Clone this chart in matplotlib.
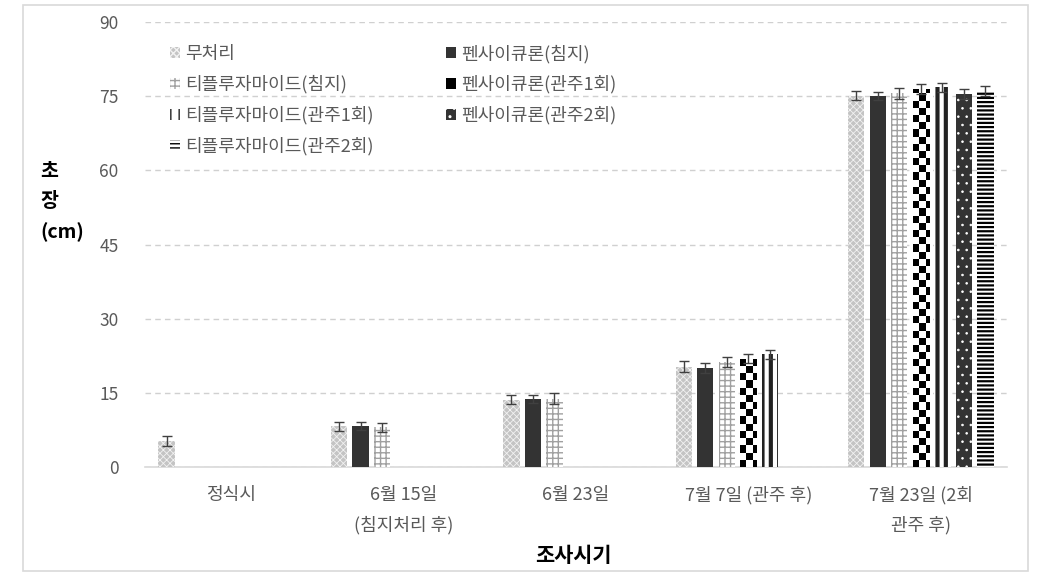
import numpy as np
import matplotlib
matplotlib.use("Agg")
import matplotlib.pyplot as plt
from matplotlib.patches import Patch, Rectangle

plt.rcParams['font.family'] = ['Noto Sans CJK KR', 'DejaVu Sans']

categories = ["정식시", "6월 15일\n(침지처리 후)", "6월 23일", "7월 7일 (관주 후)", "7월 23일 (2회\n관주 후)"]
series = ["무처리", "펜사이큐론(침지)", "티플루자마이드(침지)", "펜사이큐론(관주1회)",
          "티플루자마이드(관주1회)", "펜사이큐론(관주2회)", "티플루자마이드(관주2회)"]
nan = np.nan
v_control = [5.3, 8.2, 13.6, 20.3, 75.1]
v_pen_dip = [nan, 8.3, 13.7, 20.0, 75.0]
v_thi_dip = [nan, 8.0, 13.8, 21.2, 75.6]
v_pen_dr1 = [nan, nan, nan, 21.9, 76.5]
v_thi_dr1 = [nan, nan, nan, 22.8, 76.8]
v_pen_dr2 = [nan, nan, nan, nan, 75.4]
v_thi_dr2 = [nan, nan, nan, nan, 76.1]
e_control = [1.0, 1.0, 0.9, 1.1, 0.9]
e_pen_dip = [nan, 0.9, 0.8, 1.0, 0.8]
e_thi_dip = [nan, 1.0, 1.1, 1.0, 1.1]
e_pen_dr1 = [nan, nan, nan, 0.9, 1.0]
e_thi_dr1 = [nan, nan, nan, 0.9, 0.9]
e_pen_dr2 = [nan, nan, nan, nan, 1.0]
e_thi_dr2 = [nan, nan, nan, nan, 1.0]
values = [v_control, v_pen_dip, v_thi_dip, v_pen_dr1, v_thi_dr1, v_pen_dr2, v_thi_dr2]
errors = [e_control, e_pen_dip, e_thi_dip, e_pen_dr1, e_thi_dr1, e_pen_dr2, e_thi_dr2]

# fill styles per series: face, hatch colour, hatch, hatch lw
styles = [
    dict(fc="#c4c4c4", hc="#f2f2f2", hatch="xxxxx", hlw=0.6),
    dict(fc="#333333", hc="#333333", hatch=None, hlw=1.0),
    dict(fc="white", hc="#a0a0a0", hatch="+++", hlw=1.0),
    dict(fc="white", hc="black", hatch="checker", hlw=1.0),
    dict(fc="white", hc="#222222", hatch="||", hlw=3.0),
    dict(fc="#333333", hc="white", hatch="..", hlw=0.6),
    dict(fc="white", hc="black", hatch="----", hlw=1.6),
]

GRAY = "#595959"
fig = plt.figure(figsize=(10.39, 5.77), dpi=100)
ax = fig.add_axes([145 / 1039, 1 - 467 / 577, (1007 - 145) / 1039, (467 - 22) / 577])

slot, width = 0.125, 0.095
sq_w, sq_h = 0.042, 1.45   # checker square size in data units
x = np.arange(len(categories))
legend_handles = []
for k, (name, vals, errs, st) in enumerate(zip(series, values, errors, styles)):
    vals = np.array(vals); errs = np.array(errs)
    m = ~np.isnan(vals)
    xs = x[m] + (k - 3) * slot
    hatch = None if st["hatch"] in (None, "checker") else st["hatch"]
    with plt.rc_context({"hatch.linewidth": st["hlw"]}):
        bars = ax.bar(xs, vals[m], width, facecolor=st["fc"], edgecolor=st["hc"],
                      hatch=hatch, linewidth=0, zorder=2)
        for b in bars:
            if hasattr(b, "set_hatch_linewidth"):
                b.set_hatch_linewidth(st["hlw"])
    if st["hatch"] == "checker":
        for b in bars:
            x0, h = b.get_x(), b.get_height()
            nr, nc = int(np.ceil(h / sq_h)), 3
            cb = (np.indices((nr, nc)).sum(axis=0) % 2).astype(float)
            im = ax.imshow(cb, cmap="gray", extent=(x0 - 0.01, x0 - 0.01 + nc * sq_w, 0, nr * sq_h),
                           origin="lower", aspect="auto", interpolation="nearest", zorder=2.5)
            im.set_clip_path(b)
        with plt.rc_context({"hatch.linewidth": 2.0}):
            lh = Patch(facecolor="black", edgecolor="white", hatch="+", linewidth=0)
    else:
        with plt.rc_context({"hatch.linewidth": st["hlw"]}):
            lh = Patch(facecolor=st["fc"], edgecolor=st["hc"], hatch=hatch, linewidth=0)
    ax.errorbar(xs, vals[m], yerr=errs[m], fmt="none", ecolor="#404040",
                elinewidth=1.0, capsize=3.6, capthick=1.0, zorder=3)
    legend_handles.append(lh)

ax.set_xlim(-0.5, len(categories) - 0.5)
ax.set_ylim(0, 90)
ax.set_yticks(np.arange(0, 91, 15))
ax.set_xticks(x)
ax.set_xticklabels(categories, linespacing=1.75)
ax.tick_params(axis="y", length=0, pad=19, labelsize=12.5, labelcolor=GRAY)
ax.tick_params(axis="x", length=0, pad=14, labelsize=13, labelcolor=GRAY)
for sp in ax.spines.values():
    sp.set_visible(False)
ax.axhline(0, color="#d9d9d9", lw=1.2, zorder=1, clip_on=False)
ax.yaxis.grid(True, color="#d0d0d0", lw=1.0, ls=(0, (4, 3)), zorder=0)
ax.set_axisbelow(True)

order = [0, 2, 4, 6, 1, 3, 5]
leg = ax.legend([legend_handles[i] for i in order], [series[i] for i in order],
                ncol=2, loc="upper left", bbox_to_anchor=(0.01, 0.986), frameon=False,
                fontsize=13, labelcolor=GRAY, handlelength=0.55, handleheight=0.55,
                handletextpad=0.3, labelspacing=0.68, columnspacing=4.0)

fig.text(573 / 1039, 1 - 555 / 577, "조사시기", ha="center", va="center",
         fontsize=15, fontweight="bold", color="black")
fig.text(40 / 1039, 1 - 202 / 577, "초\n장\n(cm)", ha="left", va="center",
         fontsize=14, fontweight="bold", color="black", linespacing=1.75)

fig.patches.append(Rectangle((23 / 1039, 1 - 571 / 577), (1028 - 23) / 1039, (571 - 5) / 577,
                             transform=fig.transFigure, fill=False, edgecolor="#d9d9d9", lw=1.2))

fig.savefig("out.png", dpi=100)
